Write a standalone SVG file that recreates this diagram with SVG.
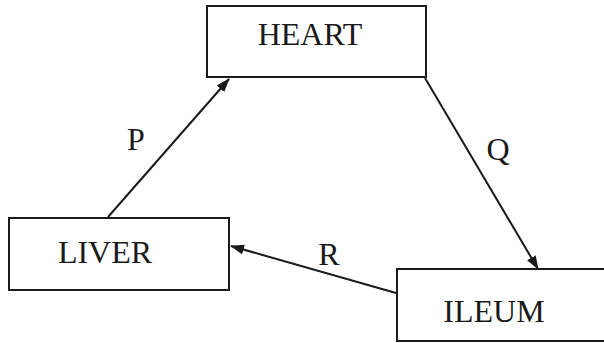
<svg xmlns="http://www.w3.org/2000/svg" width="604" height="343" viewBox="0 0 604 343">
<style>
.box{fill:#fff;stroke:#1a1a1a;stroke-width:2}
.lbl{font-family:"Liberation Serif","Times New Roman",serif;font-size:32px;fill:#1a1a1a}
.edge{stroke:#1a1a1a;stroke-width:2;fill:none;marker-end:url(#ah)}
</style>
<defs>
<marker id="ah" viewBox="0 0 14 10" refX="13" refY="5" markerWidth="14" markerHeight="10" markerUnits="userSpaceOnUse" orient="auto">
<path d="M0,0 L14,5 L0,10 z" fill="#1a1a1a"/>
</marker>
</defs>
<rect width="604" height="343" fill="#fff"/>
<g id="heart">
<rect class="box" x="207" y="6" width="219" height="71"/>
<text class="lbl" x="310" y="45" text-anchor="middle">HEART</text>
</g>
<g id="liver">
<rect class="box" x="9" y="218" width="220" height="72"/>
<text class="lbl" x="105" y="263" text-anchor="middle">LIVER</text>
</g>
<g id="ileum">
<rect class="box" x="397" y="269" width="215" height="72"/>
<text class="lbl" x="494" y="322" text-anchor="middle">ILEUM</text>
</g>
<g id="connectors">
<line class="edge" x1="108" y1="217" x2="229" y2="79"/>
<line class="edge" x1="425" y1="78" x2="538" y2="269"/>
<line class="edge" x1="396" y1="293" x2="231" y2="246"/>
<text class="lbl" x="136" y="150" text-anchor="middle">P</text>
<text class="lbl" x="498" y="160" text-anchor="middle">Q</text>
<text class="lbl" x="329" y="265" text-anchor="middle">R</text>
</g>
</svg>
